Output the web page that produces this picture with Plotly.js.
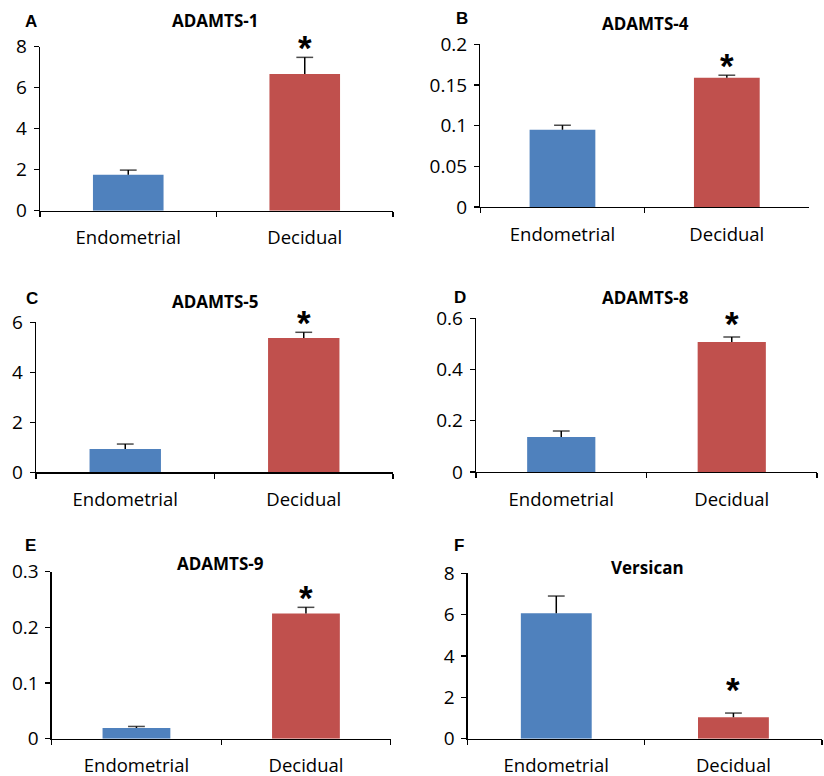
<!DOCTYPE html>
<html>
<head>
<meta charset="utf-8">
<script src="https://cdn.plot.ly/plotly-3.0.1.min.js"></script>
<style>html,body{margin:0;padding:0;background:#fff;}#chart{width:824px;height:776px;}</style>
</head>
<body>
<div id="chart"></div>
<script>
// ---- data ----
const categories = ['Endometrial', 'Decidual'];
const genes = ['ADAMTS-1', 'ADAMTS-4', 'ADAMTS-5', 'ADAMTS-8', 'ADAMTS-9', 'Versican'];
const panelLetters = ['A', 'B', 'C', 'D', 'E', 'F'];

const adamts1Mean = [1.75, 6.67];
const adamts1Err  = [0.23, 0.81];
const adamts4Mean = [0.095, 0.159];
const adamts4Err  = [0.0055, 0.003];
const adamts5Mean = [0.93, 5.37];
const adamts5Err  = [0.20, 0.23];
const adamts8Mean = [0.137, 0.507];
const adamts8Err  = [0.023, 0.020];
const adamts9Mean = [0.019, 0.225];
const adamts9Err  = [0.003, 0.011];
const versicanMean = [6.07, 1.04];
const versicanErr  = [0.83, 0.20];

const yAxisMax  = [8, 0.2, 6, 0.6, 0.3, 8];
const yAxisStep = [2, 0.05, 2, 0.2, 0.1, 2];
const significantGroup = 'Decidual';

// ---- layout config (pixel boxes of each panel: left, right, top, bottom) ----
const W = 824, H = 776;
const boxes = [
  [40, 393, 46.7, 210.7],
  [480.3, 809, 44.3, 207],
  [36, 393, 322.3, 472.3],
  [476, 817, 318.3, 472],
  [51.7, 390.7, 571.7, 738.7],
  [467.7, 822, 573.3, 738.7]
];
const titlePos  = [[215, 20], [645, 23], [215, 302], [645, 297], [220, 563], [647, 567]];
const letterPos = [[31, 21], [462, 18], [32, 298], [460, 297], [31, 545], [459, 545]];
const starShift = [-12, -12, -12, -8, -12, 2];

const means = [adamts1Mean, adamts4Mean, adamts5Mean, adamts8Mean, adamts9Mean, versicanMean];
const errs  = [adamts1Err, adamts4Err, adamts5Err, adamts8Err, adamts9Err, versicanErr];
const barColors = ['#4F81BD', '#C0504D'];
const tickFont = {family: 'Open Sans, sans-serif', size: 19, color: '#000'};
const catFont = {family: 'Open Sans, sans-serif', size: 18.5, color: '#000'};

const data = [];
const layout = {
  width: W, height: H,
  margin: {l: 0, r: 0, t: 0, b: 0},
  paper_bgcolor: '#fff', plot_bgcolor: 'rgba(0,0,0,0)',
  showlegend: false,
  bargap: 0.6,
  annotations: []
};

for (let i = 0; i < 6; i++) {
  const sfx = i === 0 ? '' : String(i + 1);
  const xa = 'x' + sfx, ya = 'y' + sfx;
  data.push({
    type: 'bar', x: categories, y: means[i], xaxis: xa, yaxis: ya,
    marker: {color: barColors, line: {width: 0}}, hoverinfo: 'skip'
  });
  // upward error bars: vertical stem from mean to mean+err with a cap on top
  for (let j = 0; j < categories.length; j++) {
    data.push({
      type: 'scatter', mode: 'lines+markers', xaxis: xa, yaxis: ya,
      x: [categories[j], categories[j]],
      y: [means[i][j], means[i][j] + errs[i][j]],
      line: {color: '#000', width: 1.5},
      marker: {symbol: 'line-ew', size: [0, 12], line: {color: '#000', width: 1.5}},
      hoverinfo: 'skip', cliponaxis: false
    });
  }
  const b = boxes[i];
  layout['xaxis' + sfx] = {
    domain: [b[0] / W, b[1] / W], anchor: ya,
    type: 'category', range: [-0.5, 1.5],
    showline: true, linecolor: '#000', linewidth: 1.3,
    ticks: 'outside', tickson: 'boundaries', ticklen: 5, tickcolor: '#000', tickwidth: 1.3,
    ticklabelstandoff: 10,
    showgrid: false, zeroline: false, tickfont: catFont, fixedrange: true
  };
  layout['yaxis' + sfx] = {
    domain: [1 - b[3] / H, 1 - b[2] / H], anchor: xa,
    range: [0, yAxisMax[i]], dtick: yAxisStep[i], tick0: 0,
    showline: true, linecolor: '#000', linewidth: 1.3,
    ticks: 'outside', ticklen: 5, tickcolor: '#000', tickwidth: 1.3,
    ticklabelstandoff: 3,
    showgrid: false, zeroline: false, tickfont: tickFont, fixedrange: true
  };
  layout.annotations.push({
    xref: 'paper', yref: 'paper', x: titlePos[i][0] / W, y: 1 - titlePos[i][1] / H,
    xanchor: 'center', yanchor: 'middle', showarrow: false,
    text: '<b>' + genes[i] + '</b>',
    font: {family: 'Open Sans, sans-serif', size: 17, color: '#000'}
  });
  layout.annotations.push({
    xref: 'paper', yref: 'paper', x: letterPos[i][0] / W, y: 1 - letterPos[i][1] / H,
    xanchor: 'center', yanchor: 'middle', showarrow: false,
    text: '<b>' + panelLetters[i] + '</b>',
    font: {family: 'Liberation Sans, Arial, sans-serif', size: 17, color: '#000'}
  });
  const k = categories.indexOf(significantGroup);
  layout.annotations.push({
    xref: xa, yref: ya, x: significantGroup, y: means[i][k] + errs[i][k],
    xanchor: 'center', yanchor: 'bottom', yshift: starShift[i], showarrow: false,
    text: '<b>*</b>',
    font: {family: 'Liberation Sans, Arial, sans-serif', size: 35, color: '#000'}
  });
}

Plotly.newPlot('chart', data, layout, {staticPlot: true, displayModeBar: false});
</script>
</body>
</html>
